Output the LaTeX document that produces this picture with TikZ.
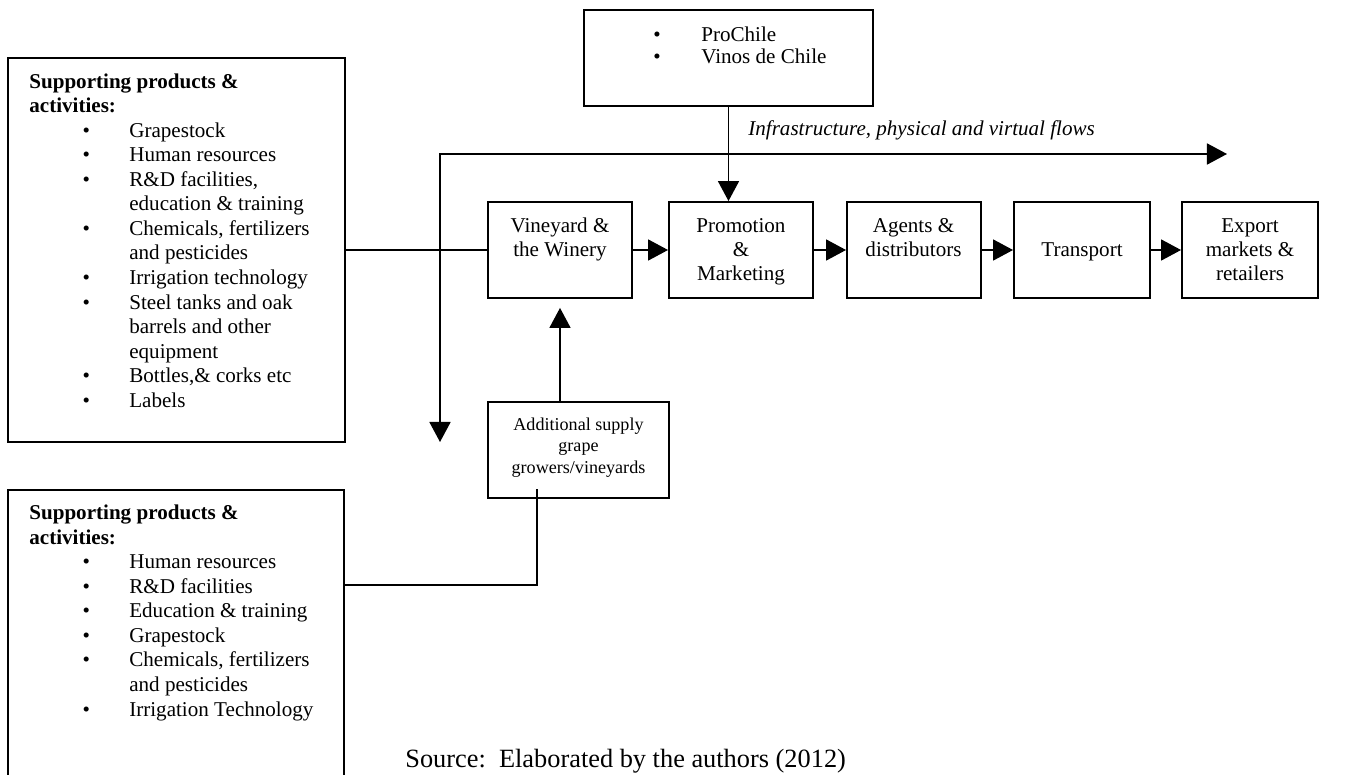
\documentclass[tikz,border=0pt]{standalone}
\usepackage{fontspec}
\setmainfont{Liberation Serif}
\usetikzlibrary{arrows.meta,fit}
\begin{document}
\begin{tikzpicture}[x=0.02cm,y=-0.02cm,
  box/.style={draw, line width=1.1pt, inner sep=0pt},
  txt/.style={font=\fontsize{12}{13.4}\selectfont, align=center, inner sep=0pt},
  listtxt/.style={font=\fontsize{12}{13.97}\selectfont, align=left, inner sep=0pt, anchor=base west},
  conn/.style={line width=0.85pt},
  arr/.style={conn, -{Triangle[length=11.4pt,width=12pt]}},
  darr/.style={conn, {Triangle[length=11.4pt,width=12pt]}-{Triangle[length=11.4pt,width=12pt]}},
]
\newcommand{\itm}[1]{\makebox[56.9pt][l]{\hspace{30.3pt}\textbullet}#1}
\newcommand{\cnt}[1]{\hspace{56.9pt}#1}
\useasboundingbox (0,0) rectangle (1358,774);
\clip (0,0) rectangle (1358,774);

% boxes
\node[box, fit={(8,58) (345,442)}] (b1) {};
\node[box, fit={(584,10) (873,106)}] (pro) {};
\node[box, fit={(488,202) (632,298)}] (vine) {};
\node[box, fit={(669,202) (813,298)}] (promo) {};
\node[box, fit={(847,202) (981,298)}] (agents) {};
\node[box, fit={(1014,202) (1150,298)}] (trans) {};
\node[box, fit={(1182,202) (1318,298)}] (export) {};
\node[box, fit={(488,402) (669,498)}] (add) {};
\node[box, fit={(8,490) (344,820)}] (b2) {};

% texts (anchored at the baseline of their last line)
\node[listtxt] (b1t) at (29,407.2) {\textbf{Supporting products \&}\\
\textbf{activities:}\\
\itm{Grapestock}\\
\itm{Human resources}\\
\itm{R\&D facilities,}\\
\cnt{education \& training}\\
\itm{Chemicals, fertilizers}\\
\cnt{and pesticides}\\
\itm{Irrigation technology}\\
\itm{Steel tanks and oak}\\
\cnt{barrels and other}\\
\cnt{equipment}\\
\itm{Bottles,\& corks etc}\\
\itm{Labels}};

\node[listtxt] (b2t) at (29,716) {\textbf{Supporting products \&}\\
\textbf{activities:}\\
\itm{Human resources}\\
\itm{R\&D facilities}\\
\itm{Education \& training}\\
\itm{Grapestock}\\
\itm{Chemicals, fertilizers}\\
\cnt{and pesticides}\\
\itm{Irrigation Technology}};

\node[listtxt, font=\fontsize{12}{12.5}\selectfont] (prot) at (653,63)
  {\makebox[27.3pt][l]{\textbullet}ProChile\\ \makebox[27.3pt][l]{\textbullet}Vinos de Chile};

\node[txt, anchor=base] (vinet) at (560,256.5) {Vineyard \&\\the Winery};
\node[txt, anchor=base] (promot) at (741,280) {Promotion\\\&\\Marketing};
\node[txt, anchor=base] (agentst) at (913.5,256.5) {Agents \&\\distributors};
\node[txt, anchor=base] (transt) at (1082,256.5) {Transport};
\node[txt, anchor=base] (exportt) at (1250,280) {Export\\markets \&\\retailers};
\node[txt, anchor=base, font=\fontsize{10.3}{12.2}\selectfont] (addt) at (578.5,473)
  {Additional supply\\grape\\growers/vineyards};

\node[txt, anchor=base west, font=\fontsize{12}{13.4}\selectfont\itshape] (infra) at (748,135)
  {Infrastructure, physical and virtual flows};
\node[txt, anchor=base west, font=\fontsize{15}{17}\selectfont] (src) at (405,767)
  {Source:\ \ Elaborated by the authors (2012)};

% connectors
\coordinate (vsplit) at (440,154);
\coordinate (vdown) at (440,442);
\coordinate (hright) at (1227,154);
\draw[darr] (vdown) -- (vsplit) -- (hright);

\draw[conn] (b1.east) -- (vine.west);
\draw[arr] (pro.south) -- (pro.south |- promo.north);
\draw[arr] (vine.east) -- (promo.west);
\draw[arr] (promo.east) -- (agents.west);
\draw[arr] (agents.east) -- (trans.west);
\draw[arr] (trans.east) -- (export.west);
\draw[arr, shorten >=5.1pt] (vine.south |- add.north) -- (vine.south);

\coordinate (addin) at (537,489);
\coordinate (b2in) at (344,585);
\draw[conn] (addin) |- (b2in);
\end{tikzpicture}
\end{document}
